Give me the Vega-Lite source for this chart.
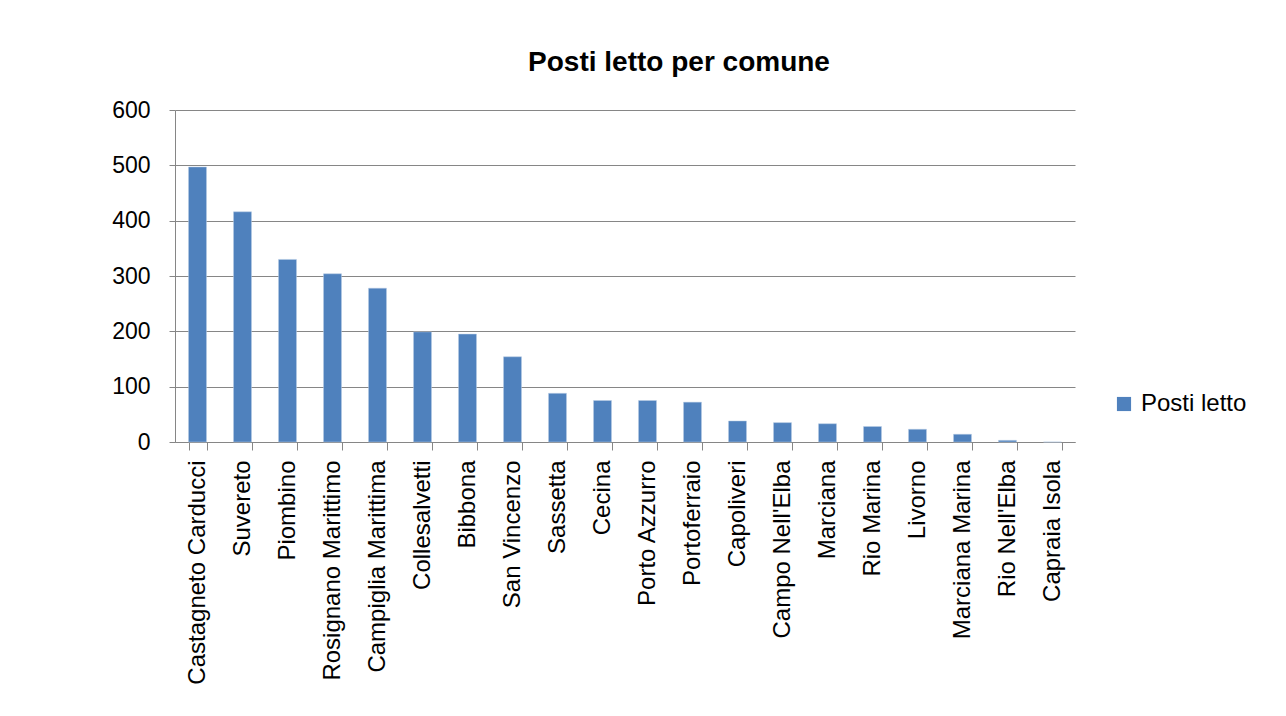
{
  "$schema": "https://vega.github.io/schema/vega-lite/v6.json",
  "autosize": {"type": "none"},
  "width": 900,
  "height": 332,
  "padding": {"left": 175, "top": 110, "right": 211, "bottom": 274},
  "background": "white",
  "title": {
    "text": "Posti letto per comune",
    "font": "Liberation Sans",
    "fontSize": 28,
    "fontWeight": "bold",
    "color": "black",
    "anchor": "middle",
    "dx": 54,
    "offset": 22
  },
  "data": {
    "values": [
      {"comune": "Castagneto Carducci", "posti": 497, "serie": "Posti letto"},
      {"comune": "Suvereto", "posti": 416, "serie": "Posti letto"},
      {"comune": "Piombino", "posti": 330, "serie": "Posti letto"},
      {"comune": "Rosignano Marittimo", "posti": 304, "serie": "Posti letto"},
      {"comune": "Campiglia Marittima", "posti": 278, "serie": "Posti letto"},
      {"comune": "Collesalvetti", "posti": 199, "serie": "Posti letto"},
      {"comune": "Bibbona", "posti": 195, "serie": "Posti letto"},
      {"comune": "San Vincenzo", "posti": 154, "serie": "Posti letto"},
      {"comune": "Sassetta", "posti": 88, "serie": "Posti letto"},
      {"comune": "Cecina", "posti": 75, "serie": "Posti letto"},
      {"comune": "Porto Azzurro", "posti": 75, "serie": "Posti letto"},
      {"comune": "Portoferraio", "posti": 72, "serie": "Posti letto"},
      {"comune": "Capoliveri", "posti": 38, "serie": "Posti letto"},
      {"comune": "Campo Nell'Elba", "posti": 35, "serie": "Posti letto"},
      {"comune": "Marciana", "posti": 33, "serie": "Posti letto"},
      {"comune": "Rio Marina", "posti": 28, "serie": "Posti letto"},
      {"comune": "Livorno", "posti": 23, "serie": "Posti letto"},
      {"comune": "Marciana Marina", "posti": 14, "serie": "Posti letto"},
      {"comune": "Rio Nell'Elba", "posti": 3, "serie": "Posti letto"},
      {"comune": "Capraia Isola", "posti": 0, "serie": "Posti letto"}
    ]
  },
  "mark": {"type": "bar", "stroke": "#b9cde5", "strokeWidth": 0.5},
  "encoding": {
    "x": {
      "field": "comune",
      "type": "nominal",
      "sort": null,
      "title": null,
      "scale": {"paddingInner": 0.6, "paddingOuter": 0.3},
      "axis": {
        "labelAngle": -90,
        "labelAlign": "right",
        "labelBaseline": "middle",
        "labelFont": "Liberation Sans",
        "labelFontSize": 24,
        "labelColor": "black",
        "labelPadding": 10,
        "tickBand": "extent",
        "tickSize": 8,
        "tickColor": "#868686",
        "domainColor": "#868686",
        "labelLimit": 300
      }
    },
    "y": {
      "field": "posti",
      "type": "quantitative",
      "title": null,
      "scale": {"domain": [0, 600]},
      "axis": {
        "values": [0, 100, 200, 300, 400, 500, 600],
        "labelFont": "Liberation Sans",
        "labelFontSize": 23,
        "labelColor": "black",
        "labelPadding": 19,
        "tickSize": 6,
        "tickColor": "#868686",
        "domainColor": "#868686",
        "gridColor": "#868686",
        "gridWidth": 1
      }
    },
    "color": {
      "field": "serie",
      "type": "nominal",
      "scale": {"range": ["#4F81BD"]},
      "legend": {
        "title": null,
        "orient": "none",
        "legendX": 937,
        "legendY": 282,
        "symbolType": "square",
        "symbolSize": 200,
        "symbolStrokeWidth": 0,
        "labelFont": "Liberation Sans",
        "labelFontSize": 24,
        "labelColor": "black",
        "labelOffset": 5
      }
    }
  },
  "config": {
    "view": {"stroke": null}
  }
}
